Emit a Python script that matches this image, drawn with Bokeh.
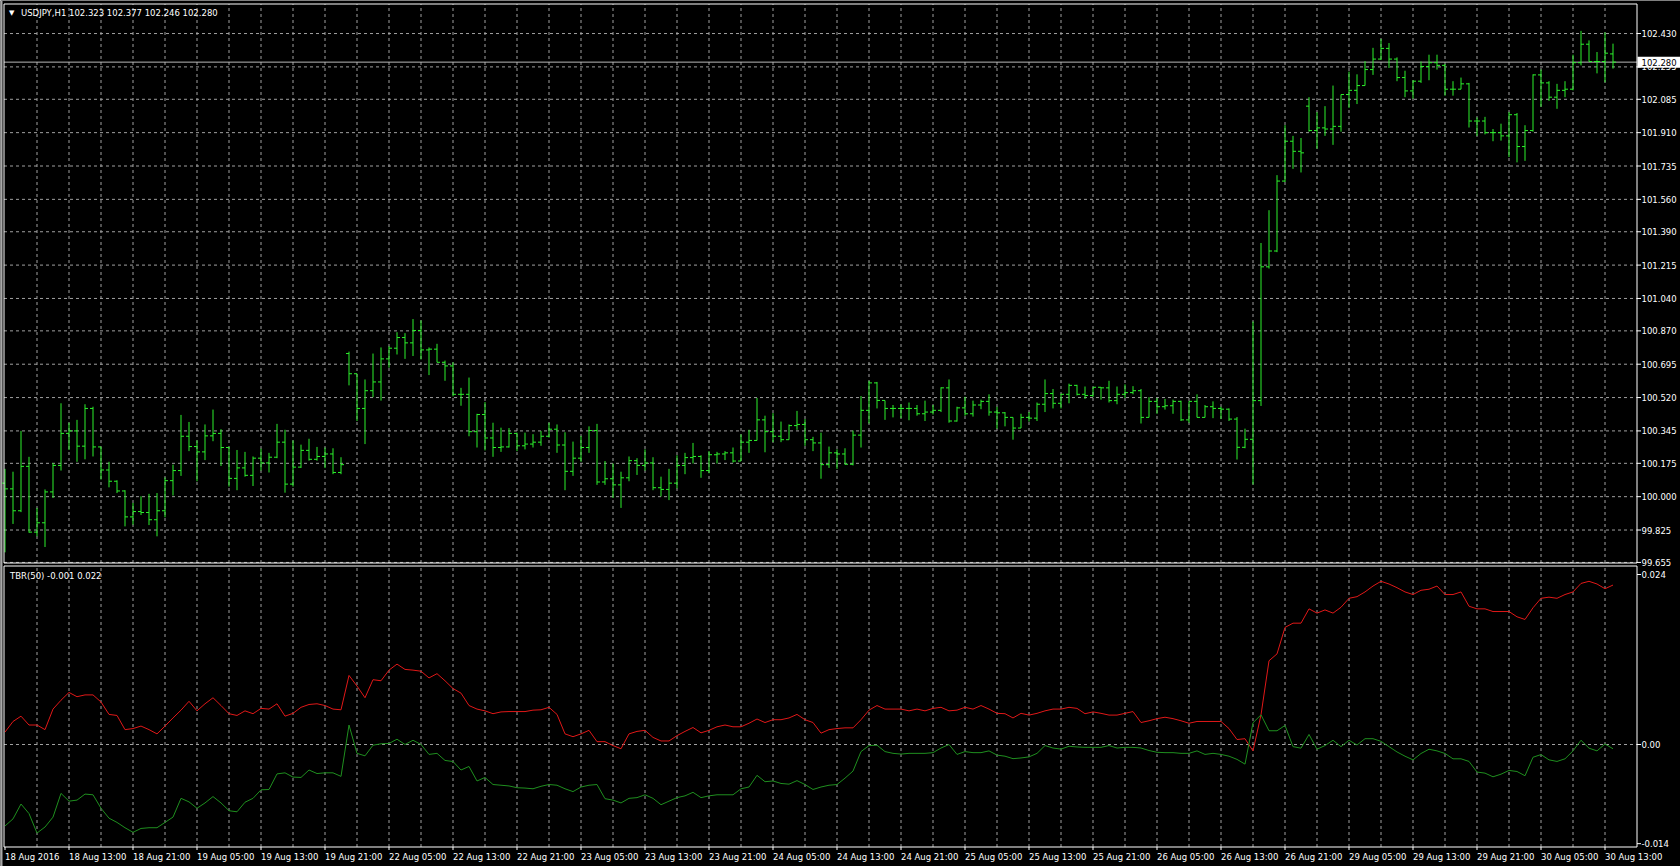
from bokeh.plotting import figure
from bokeh.models import Range1d, ColumnDataSource
from bokeh.core.properties import value
from bokeh.embed import file_html
from bokeh.resources import INLINE

# ---------------- data (USDJPY H1, 18 Aug 2016 05:00 .. 30 Aug 2016 14:00) ----------------
symbol_text = "USDJPY,H1  102.323 102.377 102.246 102.280"
indicator_text = "TBR(50) -0.001 0.022"

open_ = [
    100.071, 100.041, 99.926, 100.159, 99.814, 99.863, 100.025, 100.164, 100.332, 100.345,
    100.265, 100.463, 100.261, 100.140, 100.081, 100.030, 99.894, 99.922, 99.917, 99.879,
    99.926, 100.084, 100.137, 100.317, 100.263, 100.235, 100.319, 100.332, 100.258, 100.096,
    100.151, 100.112, 100.202, 100.177, 100.207, 100.286, 100.066, 100.155, 100.243, 100.196,
    100.211, 100.224, 100.127, 100.751, 100.645, 100.463, 100.556, 100.602, 100.723, 100.779,
    100.835, 100.807, 100.872, 100.770, 100.774, 100.705, 100.686, 100.537, 100.537, 100.341,
    100.431, 100.308, 100.258, 100.261, 100.332, 100.267, 100.276, 100.286, 100.317, 100.354,
    100.271, 100.133, 100.202, 100.258, 100.347, 100.077, 100.094, 100.062, 100.099, 100.189,
    100.164, 100.177, 100.047, 100.038, 100.071, 100.164, 100.205, 100.211, 100.137, 100.220,
    100.224, 100.230, 100.187, 100.286, 100.295, 100.403, 100.341, 100.317, 100.299, 100.373,
    100.379, 100.299, 100.282, 100.168, 100.230, 100.224, 100.170, 100.323, 100.453, 100.597,
    100.505, 100.463, 100.463, 100.463, 100.463, 100.435, 100.444, 100.453, 100.571, 100.397,
    100.466, 100.435, 100.481, 100.500, 100.444, 100.440, 100.416, 100.360, 100.416, 100.412,
    100.485, 100.541, 100.490, 100.537, 100.584, 100.537, 100.531, 100.574, 100.571, 100.504,
    100.537, 100.546, 100.556, 100.416, 100.500, 100.472, 100.477, 100.500, 100.403, 100.500,
    100.416, 100.472, 100.463, 100.459, 100.407, 100.259, 100.301, 100.504, 101.206, 101.289,
    101.656, 101.865, 101.812, 102.049, 101.921, 101.935, 101.929, 101.943, 102.110, 102.132,
    102.157, 102.241, 102.296, 102.352, 102.296, 102.199, 102.129, 102.180, 102.257, 102.277,
    102.263, 102.138, 102.138, 102.166, 101.971, 101.971, 101.910, 101.910, 101.893, 102.004,
    101.837, 101.921, 102.213, 102.171, 102.096, 102.132, 102.138, 102.277, 102.374, 102.283,
    102.283, 102.323,
]
high = [
    100.146, 100.131, 100.345, 100.209, 99.941, 100.038, 100.177, 100.490, 100.388, 100.403,
    100.485, 100.472, 100.261, 100.183, 100.086, 100.034, 99.967, 100.002, 100.015, 100.019,
    100.101, 100.168, 100.429, 100.392, 100.295, 100.379, 100.457, 100.354, 100.261, 100.245,
    100.235, 100.211, 100.252, 100.230, 100.382, 100.351, 100.295, 100.273, 100.304, 100.261,
    100.258, 100.254, 100.207, 100.761, 100.645, 100.615, 100.751, 100.783, 100.789, 100.863,
    100.858, 100.932, 100.925, 100.783, 100.802, 100.714, 100.705, 100.571, 100.625, 100.435,
    100.496, 100.388, 100.362, 100.360, 100.336, 100.336, 100.328, 100.345, 100.388, 100.379,
    100.338, 100.289, 100.319, 100.369, 100.382, 100.187, 100.174, 100.131, 100.211, 100.202,
    100.248, 100.207, 100.105, 100.146, 100.217, 100.230, 100.282, 100.217, 100.239, 100.235,
    100.239, 100.258, 100.327, 100.351, 100.518, 100.425, 100.438, 100.394, 100.379, 100.450,
    100.407, 100.314, 100.336, 100.263, 100.248, 100.254, 100.347, 100.528, 100.608, 100.602,
    100.504, 100.481, 100.485, 100.494, 100.481, 100.504, 100.481, 100.574, 100.615, 100.472,
    100.524, 100.504, 100.509, 100.537, 100.472, 100.444, 100.416, 100.435, 100.444, 100.494,
    100.615, 100.565, 100.541, 100.593, 100.587, 100.578, 100.574, 100.574, 100.608, 100.578,
    100.589, 100.580, 100.565, 100.522, 100.518, 100.513, 100.509, 100.504, 100.500, 100.537,
    100.481, 100.500, 100.472, 100.463, 100.418, 100.357, 100.919, 101.331, 101.503, 101.687,
    101.949, 101.893, 101.882, 102.096, 102.018, 102.049, 102.157, 102.110, 102.230, 102.216,
    102.285, 102.355, 102.402, 102.380, 102.305, 102.235, 102.185, 102.283, 102.319, 102.319,
    102.271, 102.180, 102.199, 102.171, 101.990, 101.993, 101.929, 101.957, 102.018, 102.013,
    101.949, 102.216, 102.241, 102.180, 102.166, 102.180, 102.319, 102.444, 102.394, 102.333,
    102.436, 102.377,
]
low = [
    99.708, 99.857, 99.919, 99.811, 99.792, 99.736, 99.993, 100.137, 100.245, 100.183,
    100.196, 100.211, 100.090, 100.049, 100.019, 99.844, 99.853, 99.904, 99.851, 99.792,
    99.892, 100.006, 100.109, 100.239, 100.081, 100.192, 100.291, 100.161, 100.053, 100.034,
    100.105, 100.056, 100.137, 100.127, 100.202, 100.021, 100.053, 100.151, 100.189, 100.189,
    100.150, 100.118, 100.118, 100.584, 100.397, 100.276, 100.522, 100.504, 100.677, 100.746,
    100.723, 100.738, 100.720, 100.638, 100.705, 100.608, 100.526, 100.477, 100.317, 100.258,
    100.243, 100.209, 100.235, 100.258, 100.239, 100.248, 100.258, 100.267, 100.310, 100.230,
    100.034, 100.109, 100.183, 100.230, 100.062, 100.062, 99.993, 99.941, 100.081, 100.114,
    100.137, 100.034, 100.001, 99.982, 100.043, 100.118, 100.174, 100.099, 100.123, 100.174,
    100.192, 100.179, 100.187, 100.230, 100.295, 100.233, 100.286, 100.286, 100.299, 100.351,
    100.267, 100.239, 100.094, 100.151, 100.146, 100.168, 100.164, 100.258, 100.384, 100.463,
    100.403, 100.416, 100.412, 100.401, 100.425, 100.397, 100.431, 100.444, 100.388, 100.394,
    100.425, 100.420, 100.459, 100.425, 100.356, 100.369, 100.299, 100.360, 100.394, 100.397,
    100.444, 100.463, 100.463, 100.490, 100.531, 100.513, 100.522, 100.509, 100.494, 100.485,
    100.518, 100.537, 100.384, 100.416, 100.435, 100.457, 100.435, 100.397, 100.388, 100.416,
    100.416, 100.412, 100.407, 100.397, 100.195, 100.254, 100.064, 100.476, 101.197, 101.283,
    101.651, 101.720, 101.701, 101.915, 101.826, 101.893, 101.846, 101.915, 102.040, 102.060,
    102.157, 102.213, 102.291, 102.249, 102.180, 102.096, 102.088, 102.171, 102.185, 102.241,
    102.104, 102.104, 102.138, 101.937, 101.893, 101.901, 101.865, 101.868, 101.782, 101.754,
    101.762, 101.915, 102.046, 102.077, 102.035, 102.096, 102.132, 102.263, 102.283, 102.221,
    102.174, 102.246,
]
close_ = [
    100.041, 99.926, 100.159, 99.814, 99.863, 100.025, 100.164, 100.332, 100.345, 100.265,
    100.463, 100.261, 100.140, 100.081, 100.030, 99.894, 99.922, 99.917, 99.879, 99.926,
    100.084, 100.137, 100.317, 100.263, 100.235, 100.319, 100.332, 100.258, 100.096, 100.151,
    100.112, 100.202, 100.177, 100.207, 100.286, 100.066, 100.155, 100.243, 100.196, 100.211,
    100.224, 100.127, 100.168, 100.645, 100.463, 100.556, 100.602, 100.723, 100.779, 100.835,
    100.807, 100.872, 100.770, 100.774, 100.705, 100.686, 100.537, 100.537, 100.341, 100.431,
    100.308, 100.258, 100.261, 100.332, 100.267, 100.276, 100.286, 100.317, 100.354, 100.271,
    100.133, 100.202, 100.258, 100.347, 100.077, 100.094, 100.062, 100.099, 100.189, 100.164,
    100.177, 100.047, 100.038, 100.071, 100.164, 100.205, 100.211, 100.137, 100.220, 100.224,
    100.230, 100.187, 100.286, 100.295, 100.403, 100.341, 100.317, 100.299, 100.373, 100.379,
    100.299, 100.282, 100.168, 100.230, 100.224, 100.170, 100.323, 100.453, 100.597, 100.505,
    100.463, 100.463, 100.463, 100.463, 100.435, 100.444, 100.453, 100.571, 100.397, 100.466,
    100.435, 100.481, 100.500, 100.444, 100.440, 100.416, 100.360, 100.416, 100.412, 100.485,
    100.541, 100.490, 100.537, 100.584, 100.537, 100.531, 100.574, 100.571, 100.504, 100.537,
    100.546, 100.556, 100.416, 100.500, 100.472, 100.477, 100.500, 100.403, 100.500, 100.416,
    100.472, 100.463, 100.459, 100.407, 100.259, 100.301, 100.504, 101.206, 101.289, 101.656,
    101.865, 101.812, 101.804, 101.921, 101.935, 101.929, 101.943, 102.110, 102.132, 102.157,
    102.241, 102.296, 102.352, 102.296, 102.199, 102.129, 102.180, 102.257, 102.277, 102.263,
    102.138, 102.138, 102.166, 101.971, 101.971, 101.910, 101.910, 101.893, 102.004, 101.837,
    101.921, 102.213, 102.171, 102.096, 102.132, 102.138, 102.277, 102.374, 102.283, 102.283,
    102.327, 102.280,
]
tbr_red = [
    0.00175, 0.00325, 0.004, 0.00275, 0.00275, 0.0021, 0.005, 0.00625, 0.00735, 0.00675,
    0.007, 0.007, 0.006, 0.00425, 0.0041, 0.0021, 0.00225, 0.0026, 0.0021, 0.0015,
    0.0026, 0.00375, 0.00485, 0.0061, 0.00475, 0.00575, 0.0066, 0.0055, 0.00435, 0.0041,
    0.00475, 0.00435, 0.0051, 0.005, 0.00575, 0.004, 0.0044, 0.00525, 0.00565, 0.00575,
    0.0055, 0.005, 0.0049, 0.00975, 0.00825, 0.0066, 0.00915, 0.009, 0.0105, 0.01135,
    0.0106, 0.0105, 0.01035, 0.0094, 0.01, 0.009, 0.0079, 0.00725, 0.0055, 0.005,
    0.00475, 0.00435, 0.0046, 0.00465, 0.00465, 0.00465, 0.00485, 0.0049, 0.00525, 0.00425,
    0.0015, 0.0011, 0.0015, 0.002, 0.0004, 0.0004, -0.00015, -0.0006, 0.0015, 0.00185,
    0.002, 0.001, 0.0005, 0.0005, 0.00125, 0.00185, 0.0024, 0.00165, 0.002, 0.0025,
    0.00275, 0.0025, 0.0025, 0.003, 0.0036, 0.0031, 0.0035, 0.0035, 0.00375, 0.00425,
    0.0035, 0.0031, 0.0016, 0.0021, 0.00225, 0.00235, 0.00235, 0.0035, 0.00485, 0.0055,
    0.005, 0.005, 0.005, 0.00475, 0.005, 0.00475, 0.0051, 0.00525, 0.00475, 0.00485,
    0.00525, 0.005, 0.0055, 0.005, 0.0044, 0.00435, 0.00375, 0.0044, 0.00415, 0.0044,
    0.00475, 0.005, 0.005, 0.00525, 0.0051, 0.00435, 0.0046, 0.0044, 0.00415, 0.00415,
    0.0044, 0.00465, 0.0031, 0.00335, 0.00365, 0.00385, 0.00365, 0.00335, 0.003, 0.00325,
    0.00325, 0.00325, 0.00325, 0.00225, 0.0007, 0.00082, -0.0009, 0.00419, 0.01182, 0.01279,
    0.01653, 0.01713, 0.01713, 0.01915, 0.01855, 0.019, 0.01855, 0.01937, 0.02064, 0.02087,
    0.02154, 0.02237, 0.02304, 0.02266, 0.02214, 0.02154, 0.02117, 0.02177, 0.02192, 0.02237,
    0.02117, 0.02117, 0.02154, 0.01952, 0.01915, 0.01915, 0.01877, 0.01877, 0.01877, 0.01803,
    0.01765, 0.0193, 0.02064, 0.0208, 0.02064, 0.02117, 0.02154, 0.02274, 0.02304, 0.02266,
    0.02199, 0.02251,
]
tbr_green = [
    -0.0115, -0.0105, -0.0084, -0.00975, -0.0125, -0.01165, -0.01025, -0.0069, -0.008, -0.00785,
    -0.007, -0.0071, -0.009, -0.0104, -0.011, -0.01175, -0.0124, -0.01185, -0.01175, -0.01175,
    -0.011, -0.01025, -0.0076, -0.0081, -0.009, -0.00825, -0.00735, -0.00825, -0.00935, -0.0095,
    -0.00815, -0.0076, -0.0064, -0.00635, -0.00415, -0.004, -0.0046, -0.00465, -0.0036, -0.0041,
    -0.004, -0.004, -0.0045, 0.00275, -0.00125, -0.0016, -0.0001, 0.0001, 0.00015, 0.00075,
    0.0, 0.0006, 0.0, -0.0014, -0.00125, -0.00225, -0.0024, -0.0036, -0.0031, -0.00515,
    -0.00465, -0.00565, -0.00575, -0.00585, -0.0061, -0.00615, -0.00625, -0.0059, -0.00565, -0.00575,
    -0.00625, -0.00665, -0.006, -0.00575, -0.00565, -0.00765, -0.00785, -0.00825, -0.0076, -0.0075,
    -0.0071, -0.0076, -0.0085, -0.008, -0.0075, -0.00725, -0.00675, -0.0075, -0.00725, -0.0071,
    -0.0071, -0.0071, -0.00625, -0.006, -0.00435, -0.00525, -0.00515, -0.0055, -0.0056, -0.0051,
    -0.00565, -0.00635, -0.006, -0.00575, -0.00565, -0.00475, -0.00375, -0.001, -0.00015, -0.0001,
    -0.001, -0.00125, -0.00135, -0.00125, -0.00125, -0.00125, -0.00115, -0.0005, 0.0, -0.0014,
    -0.001, -0.00115, -0.00115, -0.0009, -0.0015, -0.00165, -0.002, -0.0019, -0.00175, -0.00125,
    -0.00015, -0.0005, -0.00065, -0.00025, -0.00035, -0.0004, -0.0004, -0.0004, -0.00015, -0.0005,
    -0.0004, -0.0004, -0.0005, -0.00085, -0.0011, -0.00115, -0.00115, -0.00125, -0.00125, -0.0009,
    -0.0014, -0.00125, -0.0014, -0.00165, -0.0021, -0.00277, 0.00307, 0.00419, 0.00194, 0.00194,
    0.00269, -0.0003, -0.00052, 0.00142, -0.00067, -0.00015, 0.0006, -0.0003, 0.0006, -0.00007,
    0.00082, 0.00082, 0.00045, -0.0003, -0.00105, -0.00165, -0.00217, -0.00127, -0.00067, -0.0009,
    -0.00127, -0.00202, -0.00202, -0.00239, -0.00389, -0.00404, -0.00456, -0.00419, -0.00366, -0.00381,
    -0.00441, -0.0018, -0.00142, -0.00217, -0.00239, -0.00202, -0.0009, 0.0006, -0.00052, -0.0009,
    0.00007, -0.0006,
]
time_labels = [
    "18 Aug 2016", "18 Aug 13:00", "18 Aug 21:00", "19 Aug 05:00", "19 Aug 13:00",
    "19 Aug 21:00", "22 Aug 05:00", "22 Aug 13:00", "22 Aug 21:00", "23 Aug 05:00",
    "23 Aug 13:00", "23 Aug 21:00", "24 Aug 05:00", "24 Aug 13:00", "24 Aug 21:00",
    "25 Aug 05:00", "25 Aug 13:00", "25 Aug 21:00", "26 Aug 05:00", "26 Aug 13:00",
    "26 Aug 21:00", "29 Aug 05:00", "29 Aug 13:00", "29 Aug 21:00", "30 Aug 05:00",
    "30 Aug 13:00",
]
price_ticks = ["102.430", "102.255", "102.085", "101.910", "101.735", "101.560", "101.390",
               "101.215", "101.040", "100.870", "100.695", "100.520", "100.345", "100.175",
               "100.000", "99.825", "99.655"]
tbr_ticks = ["0.024", "0.00", "-0.014"]
price_top, price_bottom = 102.585, 99.652      # visible price window
tbr_top, tbr_bottom = 0.0252, -0.01447         # visible indicator window

# ---------------- styling / geometry (pixels) ----------------
BG = "black"
GRID = "#a0a0a0"
BAR = "#2cf02c"
RED = "#e01818"
GREEN = "#1f8f1f"
FONT = "DejaVu Sans"
FS = "8.5px"

W, H = 1680, 866
S = 8.0                    # px per hourly bar
LEFT, RIGHT = 3.5, 1636.5  # plot-area borders (px from left)
MAIN_T, MAIN_B = 3.5, 562.5
SUB_T, SUB_B = 565.5, 846.5
FIRST_BAR_PX = 4.5

x_start = -FIRST_BAR_PX / S
x_end = x_start + W / S


def xpx(px):
    return x_start + px / S


kp = (price_top - price_bottom) / (MAIN_B - MAIN_T)
y_end = price_top + MAIN_T * kp
y_start = y_end - H * kp
kt = (tbr_top - tbr_bottom) / (SUB_B - SUB_T)
t_end = tbr_top + SUB_T * kt
t_start = t_end - H * kt


def ymain(px):
    return y_end - px * kp


def ysub(px):
    return t_end - px * kt


n = len(close_)
idx = list(range(n))
label_step, grid_step = 8, 4
label_pos = [k * label_step for k in range(len(time_labels))]
grid_pos = list(range(grid_step, n + 2, grid_step))
xL, xR = xpx(LEFT), xpx(RIGHT)

p = figure(width=W, height=H, x_range=Range1d(x_start, x_end), y_range=Range1d(y_start, y_end),
           x_axis_type=None, y_axis_type=None, output_backend="svg", toolbar_location=None,
           background_fill_color=BG, border_fill_color=BG, outline_line_color=None,
           min_border=0)
p.extra_y_ranges = {"tbr": Range1d(t_start, t_end)}
p.xgrid.visible = False
p.ygrid.visible = False

# window frame strip on the left edge
p.quad(left=[xpx(0)], right=[xpx(2)], bottom=[y_start], top=[y_end],
       fill_color="#a8a8a8", line_color=None)

# ---- grids ----
pt = [float(t) for t in price_ticks]
p.segment(x0=[xL] * len(pt), y0=pt, x1=[xR] * len(pt), y1=pt,
          line_color=GRID, line_dash="3 3", line_width=1)
p.segment(x0=grid_pos, y0=[price_bottom] * len(grid_pos), x1=grid_pos, y1=[price_top] * len(grid_pos),
          line_color=GRID, line_dash="3 3", line_width=1)
p.segment(x0=grid_pos, y0=[tbr_bottom] * len(grid_pos), x1=grid_pos, y1=[tbr_top] * len(grid_pos),
          line_color=GRID, line_dash="3 3", line_width=1, y_range_name="tbr")
p.segment(x0=[xL], y0=[0.0], x1=[xR], y1=[0.0], line_color=GRID, line_dash="3 3",
          line_width=1, y_range_name="tbr")

# ---- bid line ----
last_close = close_[-1]
p.segment(x0=[xL], y0=[last_close], x1=[xR], y1=[last_close], line_color="#b8b8b8", line_width=1)

# ---- OHLC bars ----
src = ColumnDataSource(dict(x=idx, o=open_, h=high, l=low, c=close_,
                            xl=[i - 3 / S for i in idx], xr=[i + 3 / S for i in idx]))
p.segment(x0="x", y0="l", x1="x", y1="h", source=src, line_color=BAR, line_width=1)
p.segment(x0="xl", y0="o", x1="x", y1="o", source=src, line_color=BAR, line_width=1)
p.segment(x0="x", y0="c", x1="xr", y1="c", source=src, line_color=BAR, line_width=1)

# ---- indicator lines ----
p.line(idx, tbr_red, line_color=RED, line_width=1, y_range_name="tbr")
p.line(idx, tbr_green, line_color=GREEN, line_width=1, y_range_name="tbr")

# ---- frames ----
p.segment(x0=[xL, xR, xL, xL], y0=[price_bottom, price_bottom, price_top, price_bottom],
          x1=[xL, xR, xR, xR], y1=[price_top, price_top, price_top, price_bottom],
          line_color="white", line_width=1)
p.segment(x0=[xL, xR, xL, xL], y0=[tbr_bottom, tbr_bottom, tbr_top, tbr_bottom],
          x1=[xL, xR, xR, xR], y1=[tbr_top, tbr_top, tbr_top, tbr_bottom],
          line_color="white", line_width=1, y_range_name="tbr")

# ---- right price scale ----
tick_x1 = xpx(RIGHT + 4)
lab_x = xpx(RIGHT + 4.5)
p.segment(x0=[xR] * len(pt), y0=pt, x1=[tick_x1] * len(pt), y1=pt, line_color="white", line_width=1)
p.text(x=[lab_x] * len(pt), y=pt, text=price_ticks, text_color="white",
       text_font=value(FONT), text_font_size=value(FS), text_align="left", text_baseline="middle")

# current price tag
p.rect(x=[xpx((RIGHT + W) / 2)], y=[last_close], width=[W - RIGHT - 1], height=[11],
       width_units="screen", height_units="screen", fill_color="white", line_color=None)
p.text(x=[lab_x], y=[last_close], text=[f"{last_close:.3f}"], text_color="black",
       text_font=value(FONT), text_font_size=value(FS), text_align="left", text_baseline="middle")

# ---- indicator scale ----
tt = [float(t) for t in tbr_ticks]
p.segment(x0=[xR] * len(tt), y0=tt, x1=[tick_x1] * len(tt), y1=tt, line_color="white",
          line_width=1, y_range_name="tbr")
p.text(x=[lab_x] * len(tt), y=tt, text=tbr_ticks, text_color="white", y_range_name="tbr",
       text_font=value(FONT), text_font_size=value(FS), text_align="left", text_baseline="middle")

# ---- time scale ----
p.segment(x0=label_pos, y0=[tbr_bottom] * len(label_pos), x1=label_pos,
          y1=[ysub(SUB_B + 3)] * len(label_pos), line_color="white", line_width=1,
          y_range_name="tbr")
p.text(x=label_pos, y=[ysub(SUB_B + 5)] * len(label_pos), text=time_labels, text_color="white",
       y_range_name="tbr", text_font=value(FONT), text_font_size=value(FS),
       text_align="left", text_baseline="top")

# ---- window captions ----
p.text(x=[xpx(8.5)], y=[ymain(12)], text=["\u25bc"], text_color="white",
       text_font=value(FONT), text_font_size=value("7px"), text_align="left", text_baseline="middle")
p.text(x=[xpx(20.5)], y=[ymain(12)], text=[symbol_text], text_color="white",
       text_font=value(FONT), text_font_size=value(FS), text_align="left", text_baseline="middle")
p.text(x=[xpx(9.5)], y=[ysub(575)], text=[indicator_text], text_color="white",
       y_range_name="tbr", text_font=value(FONT), text_font_size=value(FS),
       text_align="left", text_baseline="middle")

open("out.html", "w").write(file_html(p, INLINE, title="USDJPY,H1"))
